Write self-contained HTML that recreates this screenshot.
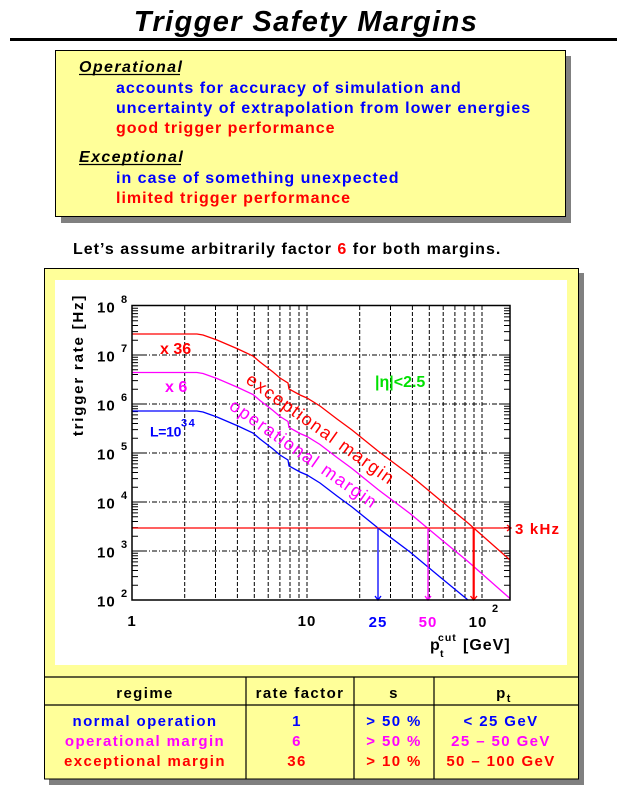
<!DOCTYPE html>
<html><head><meta charset="utf-8"><style>
html,body{margin:0;padding:0;background:#fff;}
svg{display:block;}
text{font-family:"Liberation Sans",Arial,sans-serif;}
.b{font-weight:bold;}
</style></head><body>
<svg width="629" height="796" viewBox="0 0 629 796" xmlns="http://www.w3.org/2000/svg">
<rect width="629" height="796" fill="#fff"/>
<!-- title -->
<text x="306" y="31" text-anchor="middle" font-size="29" font-weight="bold" font-style="italic" letter-spacing="1.4">Trigger Safety Margins</text>
<rect x="10" y="38" width="607" height="3" fill="#000"/>

<!-- top box -->
<rect x="61" y="56" width="510" height="167" fill="#808080"/>
<rect x="55.5" y="50.5" width="510" height="166" fill="#ffff99" stroke="#000" stroke-width="1"/>
<g font-size="16" font-weight="bold" letter-spacing="1">
<text x="79" y="72" font-style="italic" fill="#000" letter-spacing="1.4">Operational</text>
<line x1="79" y1="74.5" x2="180" y2="74.5" stroke="#000" stroke-width="1.2"/>
<text x="116" y="93" fill="#0000ff">accounts for accuracy of simulation and</text>
<text x="116" y="113" fill="#0000ff">uncertainty of extrapolation from  lower energies</text>
<text x="116" y="133" fill="#ff0000">good trigger performance</text>
<text x="79" y="162" font-style="italic" fill="#000" letter-spacing="1.4">Exceptional</text>
<line x1="79" y1="164.5" x2="181" y2="164.5" stroke="#000" stroke-width="1.2"/>
<text x="116" y="183" fill="#0000ff">in case of something unexpected</text>
<text x="116" y="203" fill="#ff0000">limited trigger performance</text>
<text x="73" y="254" fill="#000">Let’s assume arbitrarily factor <tspan fill="#ff0000">6</tspan> for both margins.</text>
</g>

<!-- lower frame -->
<rect x="49" y="273" width="535" height="512" fill="#808080"/>
<rect x="44.5" y="268.5" width="534" height="510.5" fill="#ffff99" stroke="#000" stroke-width="1"/>
<rect x="55" y="280" width="512" height="385" fill="#fff"/>

<!-- table -->
<g stroke="#000" stroke-width="1.2">
<line x1="44.5" y1="677" x2="578.5" y2="677"/>
<line x1="44.5" y1="705" x2="578.5" y2="705"/>
<line x1="246" y1="677" x2="246" y2="779"/>
<line x1="354" y1="677" x2="354" y2="779"/>
<line x1="434" y1="677" x2="434" y2="779"/>
</g>
<g font-size="15" font-weight="bold" letter-spacing="1.4" text-anchor="middle">
<text x="145" y="698" fill="#000">regime</text>
<text x="300" y="698" fill="#000">rate factor</text>
<text x="394" y="698" fill="#000">s</text>
<text x="504" y="698" fill="#000">p<tspan font-size="11" dy="4">t</tspan></text>
<text x="145" y="726" fill="#0000ff">normal operation</text>
<text x="145" y="746" fill="#ff00ff">operational margin</text>
<text x="145" y="766" fill="#ff0000">exceptional margin</text>
<text x="297" y="726" fill="#0000ff">1</text>
<text x="297" y="746" fill="#ff00ff">6</text>
<text x="297" y="766" fill="#ff0000">36</text>
<text x="394" y="726" fill="#0000ff">&gt; 50 %</text>
<text x="394" y="746" fill="#ff00ff">&gt; 50 %</text>
<text x="394" y="766" fill="#ff0000">&gt; 10 %</text>
<text x="501" y="726" fill="#0000ff">&lt; 25 GeV</text>
<text x="501" y="746" fill="#ff00ff">25 – 50 GeV</text>
<text x="501" y="766" fill="#ff0000">50 – 100 GeV</text>
</g>

<!-- plot gridlines -->
<g stroke="#000" stroke-width="1" fill="none">
<g stroke-dasharray="4,2">
<path d="M184.7 306V600M215.5 306V600M237.4 306V600M254.3 306V600M268.2 306V600M279.9 306V600M290 306V600M299 306V600M307 306V600M359.7 306V600M390.5 306V600M412.4 306V600M429.3 306V600M443.2 306V600M454.9 306V600M465 306V600M474 306V600M482 306V600"/>
</g>
<g stroke-dasharray="5,2,1,2">
<path d="M132 551H510M132 502H510M132 453H510M132 404H510M132 355H510"/>
</g>
<!-- minor ticks left -->
<path d="M132 585.2h6M132 576.6h6M132 570.5h6M132 565.7h6M132 561.9h6M132 558.6h6M132 555.7h6M132 553.2h6
M132 536.2h6M132 527.6h6M132 521.5h6M132 516.7h6M132 512.9h6M132 509.6h6M132 506.7h6M132 504.2h6
M132 487.2h6M132 478.6h6M132 472.5h6M132 467.7h6M132 463.9h6M132 460.6h6M132 457.7h6M132 455.2h6
M132 438.2h6M132 429.6h6M132 423.5h6M132 418.7h6M132 414.9h6M132 411.6h6M132 408.7h6M132 406.2h6
M132 389.2h6M132 380.6h6M132 374.5h6M132 369.7h6M132 365.9h6M132 362.6h6M132 359.7h6M132 357.2h6
M132 340.2h6M132 331.6h6M132 325.5h6M132 320.7h6M132 316.9h6M132 313.6h6M132 310.7h6M132 308.2h6
M132 551h10M132 502h10M132 453h10M132 404h10M132 355h10"/>
<path d="M510 585.2h-6M510 576.6h-6M510 570.5h-6M510 565.7h-6M510 561.9h-6M510 558.6h-6M510 555.7h-6M510 553.2h-6
M510 536.2h-6M510 527.6h-6M510 521.5h-6M510 516.7h-6M510 512.9h-6M510 509.6h-6M510 506.7h-6M510 504.2h-6
M510 487.2h-6M510 478.6h-6M510 472.5h-6M510 467.7h-6M510 463.9h-6M510 460.6h-6M510 457.7h-6M510 455.2h-6
M510 438.2h-6M510 429.6h-6M510 423.5h-6M510 418.7h-6M510 414.9h-6M510 411.6h-6M510 408.7h-6M510 406.2h-6
M510 389.2h-6M510 380.6h-6M510 374.5h-6M510 369.7h-6M510 365.9h-6M510 362.6h-6M510 359.7h-6M510 357.2h-6
M510 340.2h-6M510 331.6h-6M510 325.5h-6M510 320.7h-6M510 316.9h-6M510 313.6h-6M510 310.7h-6M510 308.2h-6
M510 551h-10M510 502h-10M510 453h-10M510 404h-10M510 355h-10"/>
</g>

<defs><clipPath id="pc"><rect x="132" y="305" width="378" height="295"/></clipPath></defs>
<g clip-path="url(#pc)" fill="none" stroke-width="1.3">
<polyline stroke="#0000ff" points="132,411 197,411 203,412 217,417 238,426 253,433 260,439 273,449 280,455 288,460 289,466 300,472 307,475 320,483 337,496 352,507 378,528 410,552 440,577 468,600 510,637"/>
<polyline stroke="#ff00ff" points="132,372.5 197,372.5 203,373.5 217,378.5 238,387.5 253,394.5 260,400.5 273,410.5 280,416.5 288,421.5 289,427.5 300,433.5 307,436.5 320,444.5 337,457.5 352,468.5 378,489.5 410,513.5 440,538.5 468,561.5 510,598.5"/>
<polyline stroke="#ff0000" points="132,334 197,334 203,335 217,340 238,349 253,356 260,362 273,372 280,378 288,383 289,389 300,395 307,398 320,406 337,419 352,430 378,451 410,475 440,500 468,523 510,560"/>
</g>

<!-- 3 kHz line and arrows -->
<g fill="none" stroke-width="1.3">
<line x1="132" y1="528" x2="511" y2="528" stroke="#ff0000"/>
<path d="M507 525L511 528L507 531" stroke="#ff0000"/>
<line x1="378" y1="528" x2="378" y2="600" stroke="#0000ff"/>
<path d="M375 596L378 600L381 596" stroke="#0000ff"/>
<line x1="428" y1="528" x2="428" y2="600" stroke="#ff00ff"/>
<path d="M425 596L428 600L431 596" stroke="#ff00ff"/>
<line x1="473.7" y1="528" x2="473.7" y2="600" stroke="#ff0000" stroke-width="2.2"/>
<path d="M470.5 596L473.7 600L477 596" stroke="#ff0000"/>
</g>

<!-- frame -->
<rect x="132" y="305.5" width="378" height="294.5" fill="none" stroke="#000" stroke-width="1.5"/>

<!-- axis labels -->
<g font-weight="bold" fill="#000">
<g font-size="15" letter-spacing="1">
<text x="97" y="312.5">10</text><text x="97" y="361.5">10</text><text x="97" y="410.5">10</text>
<text x="97" y="459.5">10</text><text x="97" y="508.5">10</text><text x="97" y="557.5">10</text><text x="97" y="606.5">10</text>
</g>
<g font-size="11">
<text x="121" y="303">8</text><text x="121" y="352">7</text><text x="121" y="401">6</text>
<text x="121" y="450">5</text><text x="121" y="499">4</text><text x="121" y="548">3</text><text x="121" y="597">2</text>
</g>
<g font-size="15" letter-spacing="1" text-anchor="middle">
<text x="132" y="626">1</text>
<text x="307" y="626">10</text>
<text x="378" y="627" fill="#0000ff">25</text>
<text x="428" y="627" fill="#ff00ff">50</text>
<text x="478" y="627">10</text>
</g>
<text x="492" y="612" font-size="11">2</text>
<text x="430" y="650" font-size="16">p</text>
<text x="438" y="641" font-size="10.5" letter-spacing="1">cut</text>
<text x="440" y="657" font-size="10.5">t</text>
<text x="463" y="650" font-size="16" letter-spacing="1">[GeV]</text>
<text transform="translate(83,365) rotate(-90)" text-anchor="middle" font-size="15" letter-spacing="1.8">trigger rate [Hz]</text>
</g>

<!-- annotations -->
<g font-weight="bold">
<text x="160" y="354" font-size="16" fill="#ff0000">x 36</text>
<text x="165" y="392" font-size="16" fill="#ff00ff">x 6</text>
<text x="150" y="436.5" font-size="14" fill="#0000ff" letter-spacing="-0.3">L=10</text>
<text x="181" y="426.5" font-size="11" fill="#0000ff" letter-spacing="1.5">34</text>
<text x="375" y="387" font-size="16" fill="#00e000">|η|&lt;2.5</text>
<text x="515" y="534" font-size="15" fill="#ff0000" letter-spacing="1.2">3 kHz</text>
</g>
<text transform="translate(320,430) rotate(35.5)" text-anchor="middle" dominant-baseline="middle" font-size="18" letter-spacing="1.5" fill="#ff0000">exceptional margin</text>
<text transform="translate(303,455) rotate(35)" text-anchor="middle" dominant-baseline="middle" font-size="18" letter-spacing="1.5" fill="#ff00ff">operational margin</text>
</svg>
</body></html>
